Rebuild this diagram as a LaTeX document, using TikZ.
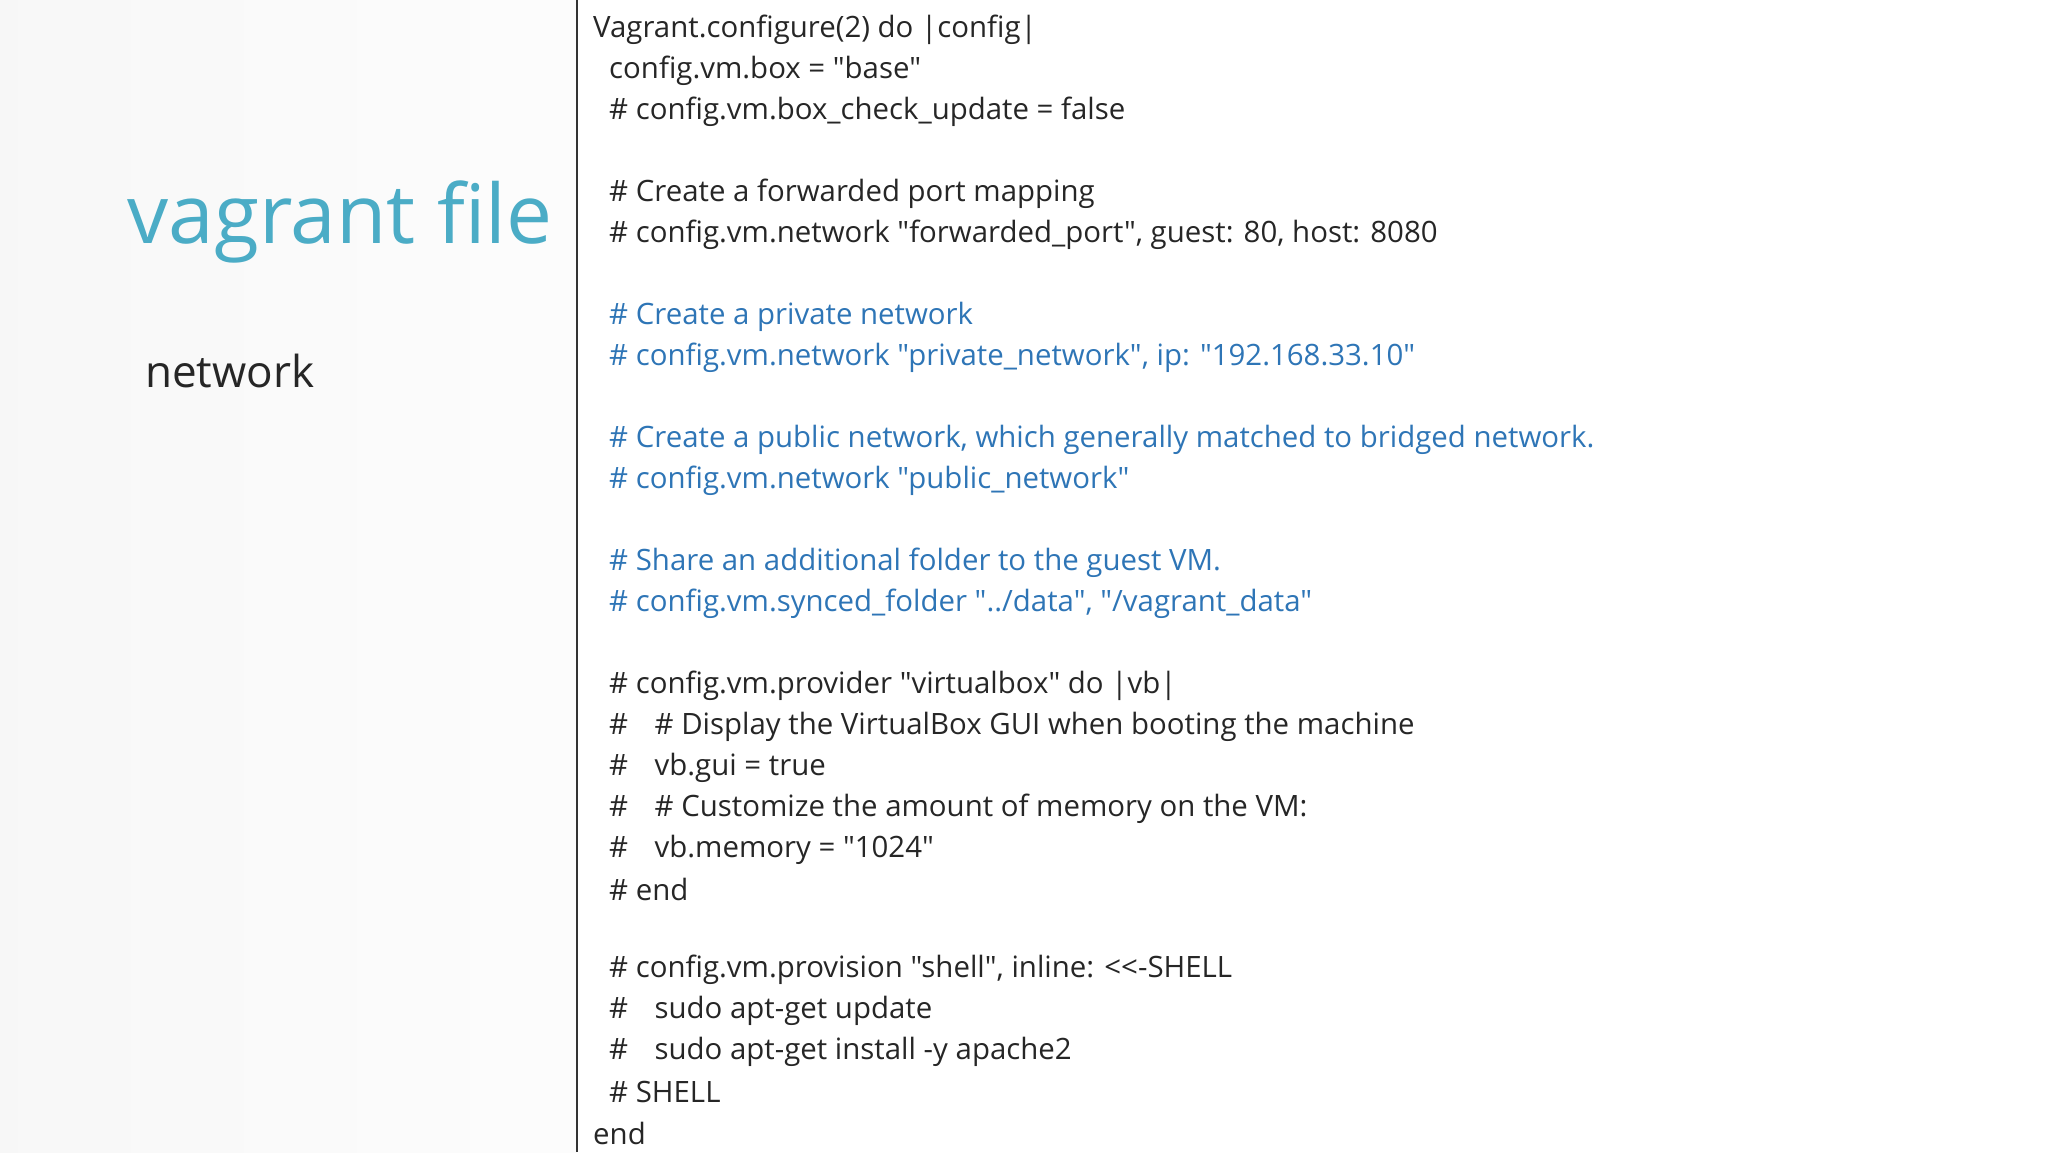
\documentclass[tikz,border=0pt]{standalone}
\usepackage{fontspec}
\newfontfamily\cf{Open Sans}
\definecolor{codeblue}{HTML}{2E75B6}
\definecolor{titleteal}{HTML}{4BACC6}
\definecolor{codetext}{HTML}{262626}
\begin{document}
\begin{tikzpicture}[x=1pt,y=-1pt,
  code/.style={anchor=west,inner sep=0pt,font=\cf\fontsize{29.4}{34}\selectfont,text=codetext},
  bl/.style={code,text=codeblue}]
\useasboundingbox (0,0) rectangle (2048,1152);
\fill[left color=gray!6,right color=gray!2] (0,0) rectangle (577,1152);
\draw[line width=2pt,black!80] (577,0) -- (577,1152);
\node[anchor=center,inner sep=0pt,text=titleteal,font=\cf\fontsize{82}{96}\selectfont] (title) at (340,222) {vagrant file};
\node[anchor=west,inner sep=0pt,text=codetext,font=\cf\fontsize{44}{52}\selectfont] (net) at (145,371) {network};
\begin{scope}[yshift=-3pt]
\node[code] (l1) at (593,27) {Vagrant.configure(2) do |config|};
\node[code] (l2) at (609,68) {config.vm.box = "base"};
\node[code] (l3) at (609,109) {\# config.vm.box\_check\_update = false};
\node[code] (l5) at (609,191) {\# Create a forwarded port mapping};
\node[code] (l6) at (609,232) {\# config.vm.network "forwarded\_port", guest: 80, host: 8080};
\node[bl] (l8) at (609,314) {\# Create a private network};
\node[bl] (l9) at (609,355) {\# config.vm.network "private\_network", ip: "192.168.33.10"};
\node[bl] (l11) at (609,437) {\# Create a public network, which generally matched to bridged network.};
\node[bl] (l12) at (609,478) {\# config.vm.network "public\_network"};
\node[bl] (l14) at (609,560) {\# Share an additional folder to the guest VM.};
\node[bl] (l15) at (609,601) {\# config.vm.synced\_folder "../data", "/vagrant\_data"};
\node[code] (l17) at (609,683) {\# config.vm.provider "virtualbox" do |vb|};
\node[code] (l18) at (609,724) {\#\hspace{0.9em}\# Display the VirtualBox GUI when booting the machine};
\node[code] (l19) at (609,765) {\#\hspace{0.9em}vb.gui = true};
\node[code] (l20) at (609,806) {\#\hspace{0.9em}\# Customize the amount of memory on the VM:};
\node[code] (l21) at (609,847) {\#\hspace{0.9em}vb.memory = "1024"};
\node[code] (l22) at (609,886) {\# end};
\node[code] (l24) at (609,967) {\# config.vm.provision "shell", inline: <<-SHELL};
\node[code] (l25) at (609,1008) {\#\hspace{0.9em}sudo apt-get update};
\node[code] (l26) at (609,1049) {\#\hspace{0.9em}sudo apt-get install -y apache2};
\node[code] (l27) at (609,1089) {\# SHELL};
\node[code] (l28) at (593,1130) {end};
\end{scope}
\end{tikzpicture}
\end{document}
